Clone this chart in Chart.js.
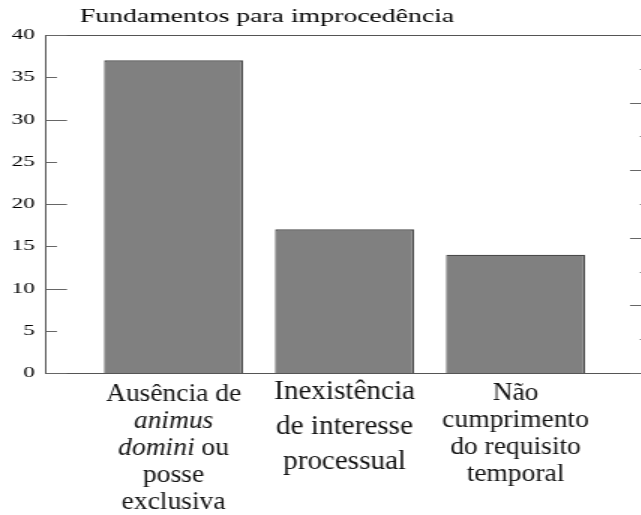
<!DOCTYPE html>
<html><head><meta charset="utf-8">
<script src="https://cdn.jsdelivr.net/npm/chart.js@4.4.1/dist/chart.umd.min.js"></script>
<style>
html,body{margin:0;padding:0;overflow:hidden;background:#fff;width:641px;height:515px}
#wrap{position:absolute;left:0;top:0;width:436px;height:515px;transform:scaleX(1.5);transform-origin:0 0}
canvas{display:block}
</style></head><body>
<div id="wrap"><canvas id="c" width="436" height="515"></canvas></div>
<script>
// ---- data ----
const chartTitle = 'Fundamentos para improcedência';
const categories = [
  ['Ausência de', '*animus*', '*domini* ou', 'posse', 'exclusiva'],
  ['Inexistência', 'de interesse', 'processual'],
  ['Não', 'cumprimento', 'do requisito', 'temporal']
];
const values = [37, 17, 14];
const yTickStep = 5;
const yMin = 0, yMax = 40;
const y2Min = 0, y2Max = 10, y2Step = 1; // right-hand frame divisions (labels off-image)

// ---- styles / layout ----
const SX = 1.5;        // horizontal stretch of the chart picture
const LSX = 1.1;       // horizontal stretch of the category labels
const labelStyles = [
  {size: 25, lh: 27, base: 401},
  {size: 26.5, lh: 35, base: 399},
  {size: 25, lh: 27, base: 400}
];
const FONT = '"Liberation Serif", "Times New Roman", serif';

function parseSegs(line) {
  const parts = line.split('*');
  return parts.map((t, i) => ({text: t, italic: i % 2 === 1})).filter(s => s.text.length);
}

const decor = {
  id: 'decor',
  afterDraw(chart) {
    const {ctx, chartArea: a, scales} = chart;
    ctx.save();
    ctx.strokeStyle = '#666';
    ctx.lineWidth = 1;
    scales.y.ticks.forEach(t => {
      const yy = Math.round(scales.y.getPixelForValue(t.value)) + 0.5;
      const len = t.value % 10 === 0 ? 14 : 7.3;
      ctx.beginPath(); ctx.moveTo(a.left, yy); ctx.lineTo(a.left + len, yy); ctx.stroke();
    });
    scales.y2.ticks.forEach(t => {
      const yy = Math.round(scales.y2.getPixelForValue(t.value)) + 0.5;
      const len = t.value % 2 === 0 ? 14 : 7.3;
      ctx.beginPath(); ctx.moveTo(a.right - len, yy); ctx.lineTo(a.right, yy); ctx.stroke();
    });
    // title
    ctx.fillStyle = '#000';
    ctx.font = '18.5px ' + FONT;
    ctx.textAlign = 'center';
    ctx.textBaseline = 'alphabetic';
    ctx.fillText(chartTitle, 178, 22);
    // category labels
    ctx.scale(LSX / SX, 1);
    ctx.textAlign = 'left';
    ctx.fillStyle = '#111';
    categories.forEach((lines, i) => {
      const st = labelStyles[i];
      const cx = scales.x.getPixelForValue(i) * SX / LSX;
      lines.forEach((line, j) => {
        const segs = parseSegs(line);
        let total = 0;
        segs.forEach(s => {
          ctx.font = (s.italic ? 'italic ' : '') + st.size + 'px ' + FONT;
          s.w = ctx.measureText(s.text).width;
          total += s.w;
        });
        let x = cx - total / 2;
        const y = st.base + j * st.lh;
        segs.forEach(s => {
          ctx.font = (s.italic ? 'italic ' : '') + st.size + 'px ' + FONT;
          ctx.fillText(s.text, x, y);
          x += s.w;
        });
      });
    });
    ctx.restore();
  }
};

const xMin = -0.746, xMax = 2.792;
const categoryTicks = (s) => { s.ticks = categories.map((c, i) => ({value: i})); };

new Chart(document.getElementById('c'), {
  type: 'bar',
  data: {
    datasets: [{
      data: values.map((v, i) => ({x: i, y: v})),
      backgroundColor: '#808080',
      borderColor: '#4a4a4a',
      borderWidth: 1.3,
      barPercentage: 0.813,
      categoryPercentage: 1
    }]
  },
  options: {
    responsive: false,
    animation: false,
    devicePixelRatio: 1,
    layout: {padding: {top: 35, left: 0, right: 0, bottom: 0}},
    plugins: {legend: {display: false}, title: {display: false}, tooltip: {enabled: false}},
    scales: {
      x: {
        type: 'linear', min: xMin, max: xMax, offset: false,
        grid: {display: false, drawTicks: false, offset: false},
        border: {display: true, color: '#555', width: 1},
        ticks: {display: false},
        afterBuildTicks: categoryTicks,
        afterFit(s) { s.height = 142; }
      },
      xTop: {
        type: 'linear', position: 'top', min: xMin, max: xMax, offset: false,
        grid: {display: false, drawTicks: false},
        border: {display: true, color: '#555', width: 1},
        ticks: {display: false},
        afterFit(s) { s.height = 0; }
      },
      y: {
        position: 'left', min: yMin, max: yMax,
        ticks: {stepSize: yTickStep, font: {family: FONT, size: 15.5}, color: '#000', padding: 7.3},
        grid: {display: false, drawTicks: false},
        border: {display: true, color: '#555', width: 1},
        afterFit(s) { s.width = 30.67; }
      },
      y2: {
        position: 'right', min: y2Min, max: y2Max,
        ticks: {stepSize: y2Step, display: false},
        grid: {display: false, drawTicks: false},
        border: {display: true, color: '#555', width: 1},
        afterFit(s) { s.width = 2; }
      }
    }
  },
  plugins: [decor]
});
</script>
</body></html>
